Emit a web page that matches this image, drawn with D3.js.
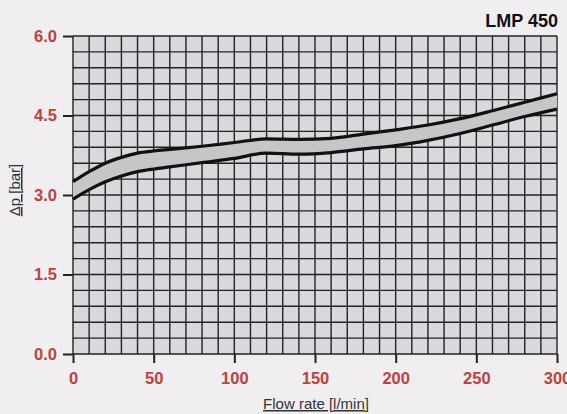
<!DOCTYPE html>
<html><head><meta charset="utf-8">
<script src="https://cdn.jsdelivr.net/npm/d3@7"></script>
<style>
html,body{margin:0;padding:0;background:#f0eef0;}
svg{display:block;}
text{font-family:"Liberation Sans",Arial,sans-serif;}
</style></head>
<body>
<script>
const title = "LMP 450";
const xTicks = [0, 50, 100, 150, 200, 250, 300];
const yTicks = [0.0, 1.5, 3.0, 4.5, 6.0];
const flow = [0, 10, 20, 30, 40, 50, 60, 80, 100, 120, 140, 160, 180, 200, 220, 240, 260, 280, 300];
const upper = [3.25, 3.44, 3.60, 3.71, 3.79, 3.83, 3.86, 3.92, 3.99, 4.06, 4.05, 4.07, 4.15, 4.23, 4.32, 4.44, 4.59, 4.75, 4.91];
const lower = [2.92, 3.10, 3.25, 3.36, 3.44, 3.49, 3.53, 3.61, 3.69, 3.79, 3.77, 3.80, 3.87, 3.93, 4.03, 4.16, 4.32, 4.48, 4.62];

const W = 567, H = 414;
const svg = d3.select("body").append("svg").attr("width", W).attr("height", H);
const x = d3.scaleLinear().domain([0, 300]).range([73, 557]);
const y = d3.scaleLinear().domain([0, 6]).range([354, 36]);
const red = "#c2413b", ink = "#222";

// plot background
svg.append("rect").attr("x", x(0)).attr("y", y(6)).attr("width", x(300) - x(0)).attr("height", y(0) - y(6)).attr("fill", "#d9d9dd");

// grid
const g = svg.append("g").attr("stroke", ink).attr("stroke-width", 1.4);
g.selectAll(".v").data(d3.range(0, 301, 10)).join("line")
  .attr("x1", d => x(d)).attr("x2", d => x(d)).attr("y1", y(0)).attr("y2", y(6));
g.selectAll(".h").data(d3.range(0, 21).map(k => k * 0.3)).join("line")
  .attr("y1", d => y(d)).attr("y2", d => y(d)).attr("x1", x(0)).attr("x2", x(300));

// band (opaque, covers grid)
const data = flow.map((f, i) => ({f, u: upper[i], l: lower[i]}));
svg.append("path").datum(data)
  .attr("d", d3.area().x(d => x(d.f)).y0(d => y(d.l)).y1(d => y(d.u)).curve(d3.curveMonotoneX))
  .attr("fill", "#c6c6c9");

// curve lines
[upper, lower].forEach(arr => {
  svg.append("path").datum(flow.map((f, i) => [f, arr[i]]))
    .attr("d", d3.line().x(d => x(d[0])).y(d => y(d[1])).curve(d3.curveMonotoneX))
    .attr("fill", "none").attr("stroke", "#111").attr("stroke-width", 3.2);
});

// axes
const ya = svg.append("g").attr("transform", `translate(${x(0)},0)`)
  .call(d3.axisLeft(y).tickValues(yTicks).tickFormat(d3.format(".1f")).tickSize(10).tickPadding(6));
const xa = svg.append("g").attr("transform", `translate(0,${y(0)})`)
  .call(d3.axisBottom(x).tickValues(xTicks).tickSize(9).tickPadding(9));
[ya, xa].forEach(a => {
  a.select(".domain").remove();
  a.selectAll("line").attr("stroke", ink).attr("stroke-width", 2);
  a.selectAll("text").attr("fill", red).attr("font-size", 16.5).attr("font-weight", "bold");
});

// titles
svg.append("text").attr("x", 558).attr("y", 27).attr("text-anchor", "end")
  .attr("font-size", 18).attr("font-weight", "bold").attr("fill", "#111").text(title);
svg.append("text").attr("x", 316).attr("y", 409).attr("text-anchor", "middle")
  .attr("font-size", 15).attr("fill", "#333").attr("text-decoration", "underline").text("Flow rate [l/min]");
svg.append("text").attr("transform", "translate(20,190) rotate(-90)").attr("text-anchor", "middle")
  .attr("font-size", 15).attr("fill", "#333").attr("text-decoration", "underline").text("Δp [bar]");
</script>
</body></html>
